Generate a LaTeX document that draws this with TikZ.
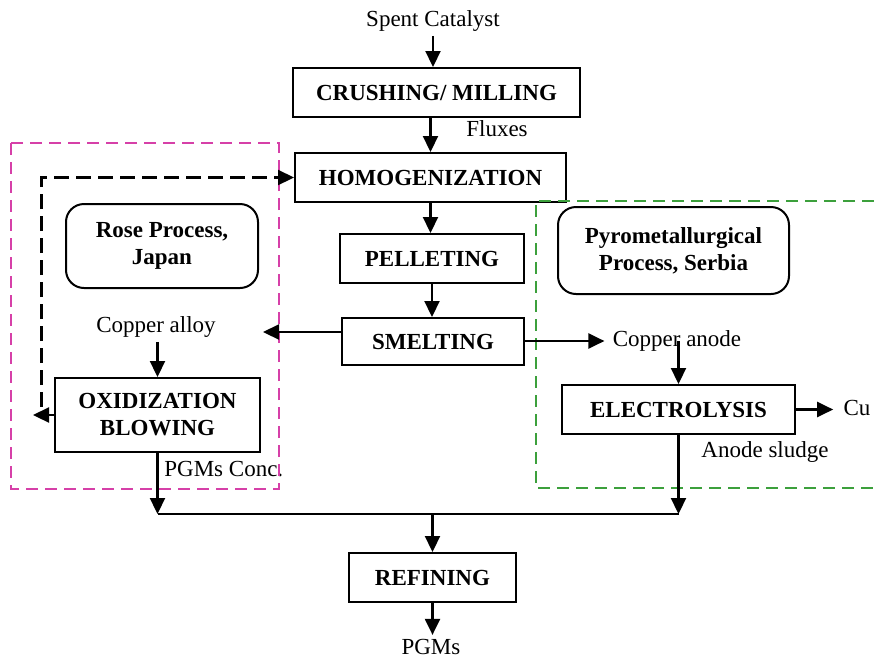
\documentclass[tikz,border=0pt]{standalone}
\usepackage{fontspec}
\setmainfont{Liberation Serif}
\usepackage{xcolor}
\usetikzlibrary{arrows.meta, positioning}

\definecolor{rosepink}{RGB}{214,64,168}
\definecolor{serbiagreen}{RGB}{60,160,60}

\begin{document}
\begin{tikzpicture}[
          x=0.5pt, y=-0.5pt,
          font=\fontsize{11.5}{13.5}\selectfont,
          stage/.style={rectangle, draw, line width=1pt, align=center, inner sep=0pt,
            font=\fontsize{11.5}{13.5}\selectfont\bfseries},
          region/.style={stage, rounded corners=9pt},
          tag/.style={inner sep=2pt},
          flow/.style={-{Triangle[length=8pt,width=7.5pt]}, line width=1.1pt},
          loopback/.style={flow, dash pattern=on 7.5pt off 3.5pt},
          frame/.style={line width=0.8pt, dash pattern=on 6pt off 3.5pt}
        ]
          \useasboundingbox (0,0) rectangle (874,660);

          % main line
          \node[tag] (spent) at (433,21) {Spent Catalyst};
          \node[stage, minimum width=143.5pt, minimum height=24.5pt] (crush) at (436.5,92.5) {CRUSHING/ MILLING};
          \node[tag] (flux) at (497,129) {Fluxes};
          \node[stage, minimum width=135.5pt, minimum height=24.5pt] (homog) at (430.5,177.5) {HOMOGENIZATION};
          \node[stage, minimum width=92pt, minimum height=24.5pt] (pellet) at (432,258.5) {PELLETING};
          \node[stage, minimum width=91pt, minimum height=23.5pt] (smelt) at (433,341.5) {SMELTING};
          \node[stage, minimum width=83.5pt, minimum height=24.5pt] (refin) at (432.5,577.5) {REFINING};
          \node[tag] (pgms) at (431,647) {PGMs};

          % Rose process side
          \node[region, minimum width=96pt, minimum height=42pt] (rose) at (162,246) {Rose Process,\\Japan};
          \node[tag] (alloy) at (156,327) {Copper alloy};
          \node[stage, minimum width=102.5pt, minimum height=37pt] (oxid) at (157.5,415) {OXIDIZATION\\BLOWING};
          \node[tag, anchor=west] (conc) at (160,469) {PGMs Conc.};

          % Serbia side
          \node[region, minimum width=115.5pt, minimum height=43.5pt] (pyro) at (673.5,250.5) {Pyrometallurgical\\Process, Serbia};
          \node[tag] (anode) at (677,341) {Copper anode};
          \node[stage, minimum width=116.5pt, minimum height=24.5pt] (elec) at (678.5,409.5) {ELECTROLYSIS};
          \node[tag] (cu) at (857,408) {Cu};
          \node[tag] (sludge) at (765,452) {Anode sludge};

          \coordinate (toalloy) at (263,332);
          \coordinate (fbtip) at (33,415);
          \coordinate (fbstart) at (41.5,407);
          \coordinate (busL) at (157.5,514);
          \coordinate (busR) at (678.5,514);

          % dashed frames
          \draw[frame, rosepink] (11,143) rectangle (279,489);
          \draw[frame, serbiagreen] (874,201) -- (536,201) -- (536,488) -- (874,488);

          % arrows
          \draw[flow] (spent.south) -- (spent.south |- crush.north);
          \draw[flow] (crush.south -| homog.north) -- (homog.north);
          \draw[flow] (homog.south) -- (homog.south |- pellet.north);
          \draw[flow] (pellet.south) -- (pellet.south |- smelt.north);
          \draw[flow] (smelt.west |- toalloy) -- (toalloy);
          \draw[flow, shorten >=2pt] (smelt.east |- anode.west) -- (anode.west);
          \draw[flow] (oxid.north |- alloy.south) -- (oxid.north);
          \draw[flow] (oxid.west) -- (fbtip);
          \draw[loopback] (fbstart) |- (homog.west);
          \draw[flow] (elec.north |- anode.center) -- (elec.north);
          \draw[flow, shorten >=3pt] (elec.east) -- (elec.east -| cu.west);
          \draw[flow] (oxid.south) -- (busL);
          \draw[flow] (elec.south) -- (busR);
          \draw[line width=1.1pt] (busL) -- (busR);
          \draw[flow] (busL -| refin.north) -- (refin.north);
          \draw[flow] (refin.south) -- (refin.south |- pgms.north);
        \end{tikzpicture}
\end{document}
